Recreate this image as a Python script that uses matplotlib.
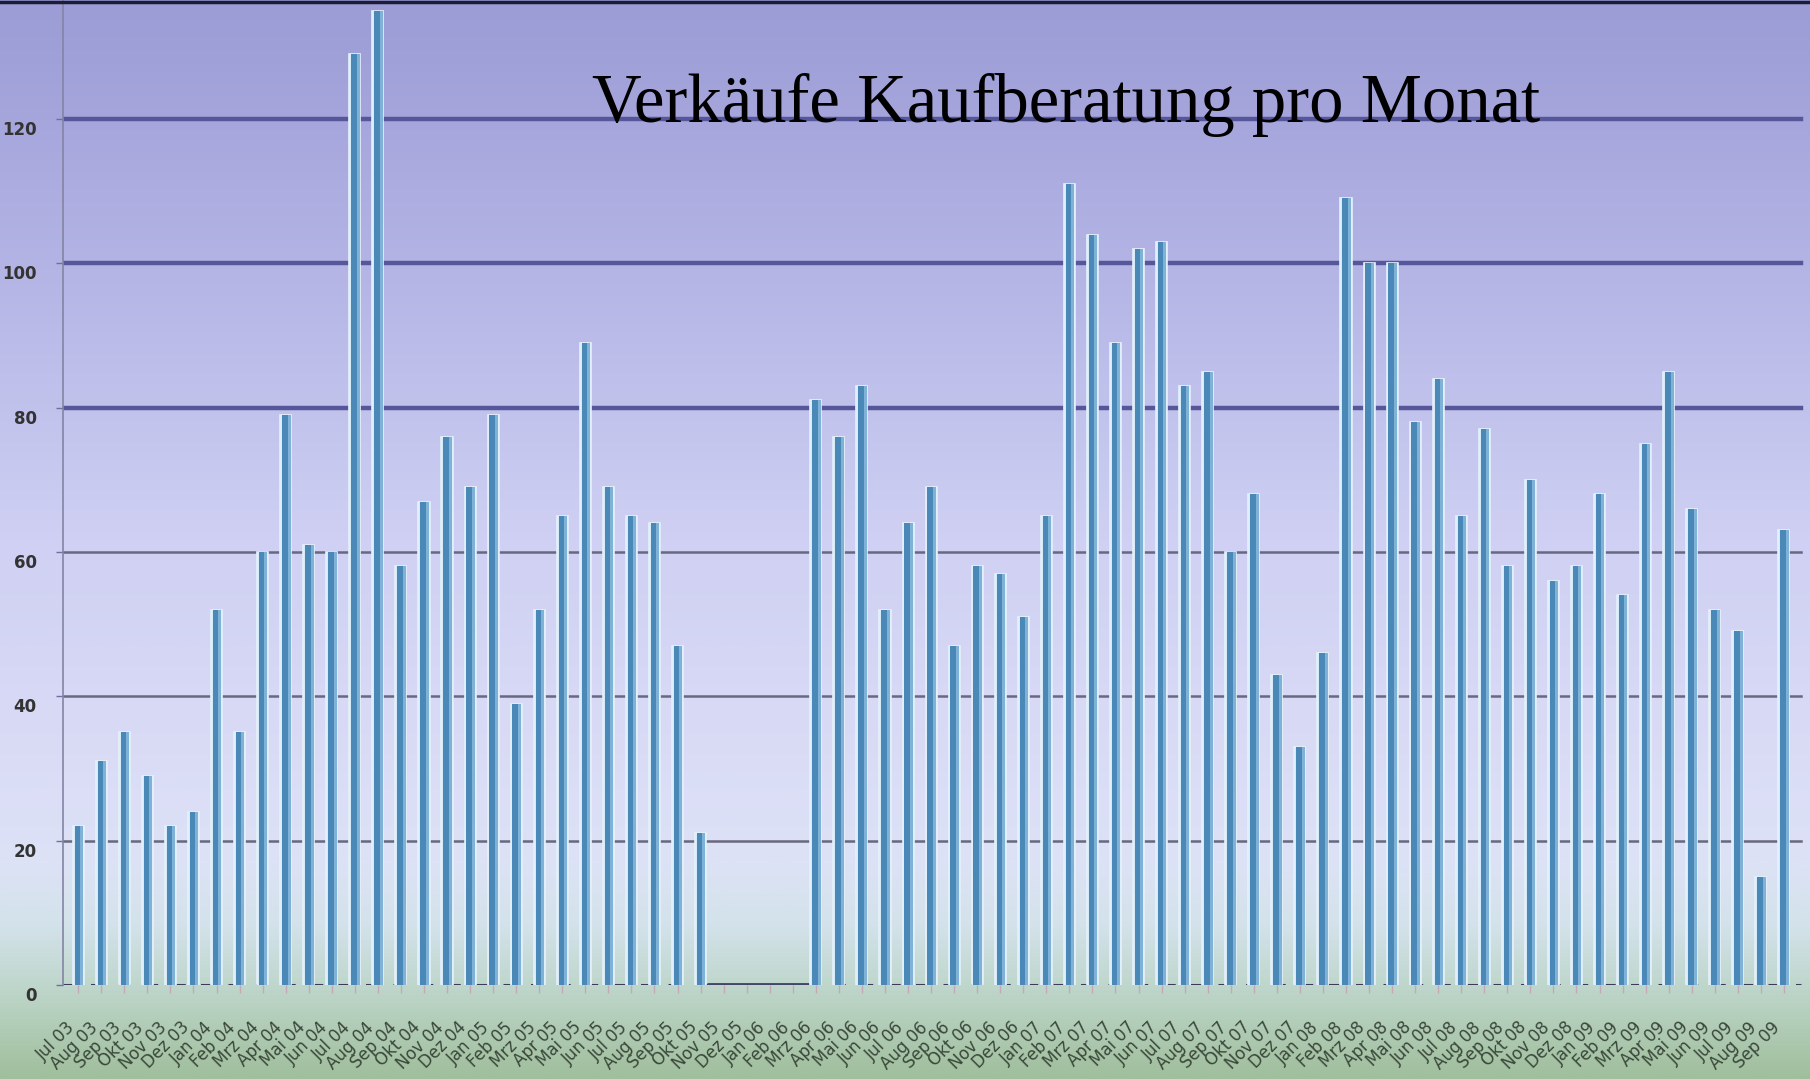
import numpy as np
import matplotlib
matplotlib.use("Agg")
import matplotlib.pyplot as plt
from matplotlib.colors import LinearSegmentedColormap
from matplotlib.transforms import ScaledTranslation
from matplotlib.lines import Line2D

# ---------------- data ----------------
month_names = ["Jan", "Feb", "Mrz", "Apr", "Mai", "Jun",
               "Jul", "Aug", "Sep", "Okt", "Nov", "Dez"]
start_year = 2003
start_month = 7  # July
n_months = 75
labels = []
for i in range(n_months):
    m = (start_month - 1 + i) % 12
    y = start_year + (start_month - 1 + i) // 12
    labels.append(f"{month_names[m]} {y % 100:02d}")

sales = [22, 31, 35, 29, 22, 24, 52, 35, 60, 79, 61, 60,
         129, 135, 58, 67, 76, 69, 79, 39, 52, 65, 89, 69,
         65, 64, 47, 21, 0, 0, 0, 0, 81, 76, 83, 52,
         64, 69, 47, 58, 57, 51, 65, 111, 104, 89, 102, 103,
         83, 85, 60, 68, 43, 33, 46, 109, 100, 100, 78, 84,
         65, 77, 58, 70, 56, 58, 68, 54, 75, 85, 66, 52,
         49, 15, 63]

yticks = [0, 20, 40, 60, 80, 100, 120]
title = "Verkäufe Kaufberatung pro Monat"

# ---------------- figure ----------------
W, H = 1810, 1079
fig = plt.figure(figsize=(W / 100, H / 100), dpi=100)

# background gradient
bg = fig.add_axes([0, 0, 1, 1], zorder=-10)
stops = [(0.00, "#9c9cd6"), (0.10, "#a5a5dc"), (0.30, "#b9bae8"),
         (0.50, "#cfd0f3"), (0.70, "#dadcf6"), (0.80, "#dde2f6"),
         (0.86, "#d3e2ea"), (0.92, "#bdd5c9"), (1.00, "#a0bf9c")]
cmap = LinearSegmentedColormap.from_list("bg", stops)
grad = np.linspace(0, 1, 512).reshape(-1, 1)
bg.imshow(grad, aspect="auto", cmap=cmap, extent=[0, 1, 0, 1], origin="upper")
bg.set_axis_off()

ax_left = 63 / W
ax_bottom = (H - 985) / H
ax = fig.add_axes([ax_left, ax_bottom, 1 - ax_left, 985 / H])
ax.set_facecolor("none")

x = np.arange(len(sales))
vals = np.array(sales)

ax.set_xlim(-0.66, 75.13)
ax.set_ylim(0, 136.5)

# gridlines
for v in yticks[1:]:
    if v >= 80:
        ax.axhline(v, color="#56569a", lw=3.2, zorder=1, xmax=0.995)
    else:
        ax.axhline(v, color="#68687e", lw=1.8, zorder=1, xmax=0.995)
ax.axhline(0, color="#3c3c58", lw=2.2, ls=(0, (4, 5)), zorder=1, xmax=0.995)

# gap of zero months shown as a solid floor line
zero_idx = x[vals == 0]
if len(zero_idx):
    ax.hlines(0, zero_idx.min() - 0.7, zero_idx.max() + 0.7,
              color="#45456a", lw=3.5, zorder=2)

# bars (cylinder-like look)
pos = vals > 0
ax.bar(x[pos], vals[pos], width=0.48, color="#d6eaf8", edgecolor="#e4f1fb",
       linewidth=1.2, zorder=3)
ax.bar(x[pos] + 0.03, vals[pos], width=0.36, color="#80b2d8", linewidth=0,
       zorder=4)
ax.bar(x[pos] - 0.04, vals[pos], width=0.24, color="#4a88b8", linewidth=0,
       zorder=5)

# axes styling
for s in ["top", "right", "bottom"]:
    ax.spines[s].set_visible(False)
ax.spines["left"].set_color("#8484a4")
ax.spines["left"].set_linewidth(1.2)

ax.set_yticks(yticks)
ax.set_yticklabels([str(v) for v in yticks], fontsize=12, color="#333333",
                   fontfamily="DejaVu Sans", fontweight="semibold")
ax.tick_params(axis="y", length=5, width=1, color="#7070a0", pad=14)
off = ScaledTranslation(0, -0.09, fig.dpi_scale_trans)
for lab in ax.get_yticklabels():
    lab.set_transform(lab.get_transform() + off)

ax.set_xticks(x)
ax.set_xticklabels(labels, rotation=45, ha="right", fontsize=12,
                   color="#3a483a", fontfamily="DejaVu Sans")
ax.tick_params(axis="x", length=6, width=1, color="#c4a8b8", pad=18)

# title
fig.text(592 / W, 1 - 122 / H, title, fontsize=49.5, ha="left",
         va="baseline", fontfamily="Liberation Serif", color="black",
         zorder=20)

# top border
fig.add_artist(Line2D([0, 1], [0.9985, 0.9985], transform=fig.transFigure,
                      color="#1c1c38", lw=2.5))

fig.savefig("out.png", dpi=100)
